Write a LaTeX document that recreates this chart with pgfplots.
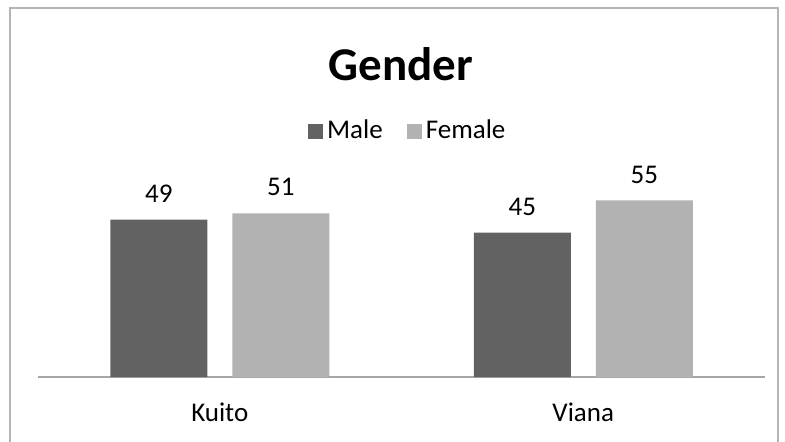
\documentclass[border=0pt]{standalone}
\usepackage{pgfplots}
\pgfplotsset{compat=1.18}
\usepackage{fontspec}
\setmainfont{Carlito}
\definecolor{maleGray}{HTML}{626262}
\definecolor{femaleGray}{HTML}{B2B2B2}
\definecolor{axisGray}{HTML}{A6A6A6}
\definecolor{frameGray}{HTML}{B4B4B4}

\begin{document}
\begin{tikzpicture}
  % page = 785x441 px, 1 px = 0.5pt, origin at the axis baseline start
  \clip (-19pt,-32pt) rectangle (373.5pt,188.5pt);
  \draw[frameGray, line width=0.6pt] (-14pt,-40pt) rectangle (370pt,184.5pt);
  \begin{axis}[
      at={(0,0)}, anchor=south west,
      scale only axis,
      width=363.5pt, height=96.3pt,
      ybar=12.5pt, bar width=48.5pt,
      xmin=-0.5, xmax=1.5,
      ymin=0, ymax=60,
      xtick={0,1}, xticklabels={Kuito,Viana},
      axis x line*=bottom,
      axis y line=none,
      x axis line style={axisGray, line width=1pt, -},
      xtick style={draw=none},
      xticklabel style={font=\fontsize{13.5}{16}\selectfont, yshift=-5pt},
      /pgf/number format/assume math mode=true,
      nodes near coords,
      every node near coord/.append style={font=\fontsize{13.5}{16}\selectfont, anchor=center, yshift=13pt, black},
      legend columns=2,
      legend style={draw=none, fill=none, at={(0.51,1.277)}, anchor=center,
        font=\fontsize{13.5}{16}\selectfont,
        /tikz/every even column/.append style={column sep=10pt}},
      legend image code/.code={\fill[#1] (0pt,-3.75pt) rectangle (7.5pt,3.75pt);},
    ]
    \addplot[fill=maleGray, draw=none] coordinates {(0,49) (1,45)};
    \addlegendentry{Male}
    \addplot[fill=femaleGray, draw=none] coordinates {(0,51) (1,55)};
    \addlegendentry{Female}
  \end{axis}
  \node[font=\fontsize{23.5}{28}\selectfont\bfseries] at (181.5pt,156.5pt) {Gender};
\end{tikzpicture}
\end{document}
